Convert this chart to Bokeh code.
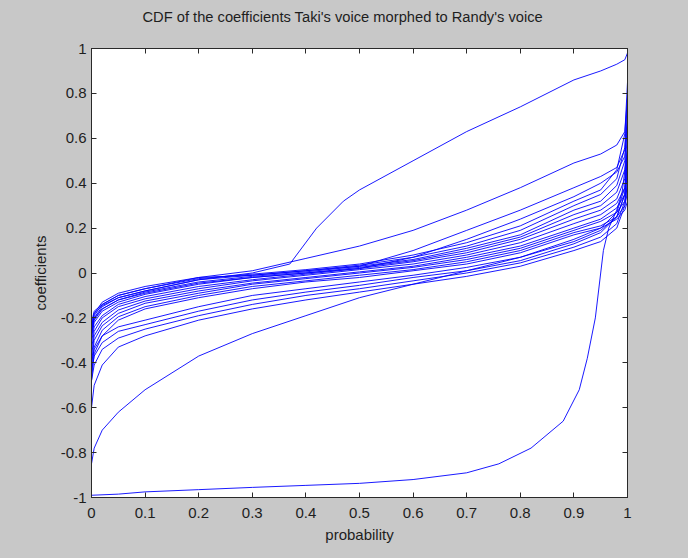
from bokeh.plotting import figure
from bokeh.models import Range1d, LinearAxis, FixedTicker
from bokeh.embed import file_html
from bokeh.resources import INLINE

# ---------------- data ----------------
TITLE = "CDF of the coefficients Taki's voice morphed to Randy's voice"
X_LABEL = "probability"
Y_LABEL = "coefficients"

X_TICKS = [0, 0.1, 0.2, 0.3, 0.4, 0.5, 0.6, 0.7, 0.8, 0.9, 1]
X_TICK_LABELS = ["0", "0.1", "0.2", "0.3", "0.4", "0.5", "0.6", "0.7", "0.8", "0.9", "1"]
Y_TICKS = [-1, -0.8, -0.6, -0.4, -0.2, 0, 0.2, 0.4, 0.6, 0.8, 1]
Y_TICK_LABELS = ["-1", "-0.8", "-0.6", "-0.4", "-0.2", "0", "0.2", "0.4", "0.6", "0.8", "1"]

# shared probability grid for the main bundle
P = [0, 0.005, 0.02, 0.05, 0.1, 0.2, 0.3, 0.4, 0.5, 0.6, 0.7, 0.8, 0.9, 0.95, 0.98, 0.995, 1]

d1 = [-0.22, -0.17, -0.14, -0.10, -0.07, -0.025, -0.005, 0.015, 0.04, 0.08, 0.135, 0.21, 0.32, 0.37, 0.46, 0.62, 0.85]
d2 = [-0.24, -0.18, -0.145, -0.11, -0.08, -0.03, -0.01, 0.01, 0.035, 0.07, 0.12, 0.19, 0.30, 0.35, 0.42, 0.56, 0.78]
d3 = [-0.26, -0.20, -0.16, -0.12, -0.085, -0.04, -0.015, 0.005, 0.03, 0.06, 0.11, 0.17, 0.28, 0.32, 0.39, 0.50, 0.70]
d4 = [-0.29, -0.22, -0.17, -0.13, -0.095, -0.05, -0.02, 0.0, 0.025, 0.055, 0.10, 0.16, 0.26, 0.30, 0.36, 0.46, 0.62]
d5 = [-0.31, -0.24, -0.19, -0.14, -0.105, -0.06, -0.03, -0.005, 0.02, 0.05, 0.09, 0.15, 0.24, 0.28, 0.33, 0.42, 0.56]
d6 = [-0.34, -0.26, -0.20, -0.15, -0.115, -0.07, -0.035, -0.01, 0.015, 0.04, 0.08, 0.135, 0.22, 0.26, 0.31, 0.38, 0.50]
d7 = [-0.37, -0.28, -0.22, -0.165, -0.125, -0.08, -0.045, -0.02, 0.005, 0.03, 0.07, 0.12, 0.20, 0.24, 0.29, 0.35, 0.45]
d8 = [-0.40, -0.30, -0.235, -0.18, -0.135, -0.09, -0.05, -0.025, 0.0, 0.025, 0.06, 0.11, 0.19, 0.23, 0.27, 0.32, 0.40]
d9 = [-0.44, -0.33, -0.255, -0.195, -0.15, -0.10, -0.06, -0.035, -0.01, 0.015, 0.05, 0.10, 0.18, 0.21, 0.25, 0.30, 0.36]
d10 = [-0.48, -0.36, -0.28, -0.21, -0.16, -0.11, -0.07, -0.04, -0.02, 0.01, 0.04, 0.09, 0.17, 0.20, 0.24, 0.28, 0.32]

u2 = [-0.26, -0.19, -0.14, -0.10, -0.07, -0.02, 0.01, 0.065, 0.12, 0.19, 0.28, 0.38, 0.49, 0.53, 0.57, 0.63, 0.78]
u3 = [-0.24, -0.18, -0.13, -0.09, -0.06, -0.02, -0.01, 0.01, 0.03, 0.10, 0.19, 0.28, 0.38, 0.43, 0.47, 0.55, 0.70]
u4 = [-0.27, -0.21, -0.16, -0.12, -0.09, -0.045, -0.02, 0.0, 0.02, 0.07, 0.15, 0.24, 0.34, 0.40, 0.45, 0.52, 0.65]

g1 = [-0.40, -0.34, -0.28, -0.24, -0.21, -0.15, -0.10, -0.07, -0.04, -0.01, 0.025, 0.07, 0.15, 0.20, 0.27, 0.38, 0.55]
g2 = [-0.44, -0.37, -0.31, -0.26, -0.23, -0.17, -0.12, -0.085, -0.055, -0.02, 0.01, 0.055, 0.13, 0.18, 0.25, 0.35, 0.50]
g3 = [-0.48, -0.41, -0.34, -0.29, -0.25, -0.19, -0.14, -0.10, -0.07, -0.035, 0.0, 0.045, 0.115, 0.16, 0.22, 0.32, 0.45]
l1 = [-0.60, -0.50, -0.41, -0.33, -0.28, -0.21, -0.16, -0.12, -0.085, -0.05, -0.015, 0.03, 0.10, 0.14, 0.20, 0.30, 0.40]
l2 = [-0.85, -0.78, -0.70, -0.62, -0.52, -0.37, -0.27, -0.19, -0.11, -0.05, 0.01, 0.07, 0.14, 0.19, 0.25, 0.35, 0.55]

# top outlier (own probability grid, kink near p = 0.37)
U1_P = [0, 0.005, 0.02, 0.05, 0.1, 0.2, 0.3, 0.37, 0.42, 0.47, 0.5, 0.6, 0.7, 0.8, 0.9, 0.95, 0.98, 0.995, 1]
U1_Y = [-0.28, -0.20, -0.15, -0.11, -0.08, -0.03, 0.0, 0.04, 0.20, 0.32, 0.37, 0.50, 0.63, 0.74, 0.86, 0.90, 0.93, 0.95, 0.98]

# bottom outlier (own probability grid)
B_P = [0, 0.05, 0.1, 0.2, 0.3, 0.4, 0.5, 0.6, 0.7, 0.76, 0.82, 0.88, 0.91, 0.925, 0.94, 0.955, 0.965, 0.98, 0.99, 1]
B_Y = [-0.99, -0.985, -0.975, -0.965, -0.955, -0.946, -0.937, -0.92, -0.89, -0.85, -0.78, -0.66, -0.52, -0.38, -0.20, 0.10, 0.20, 0.28, 0.36, 0.55]

SERIES = [(P, d) for d in (d1, d2, d3, d4, d5, d6, d7, d8, d9, d10, u2, u3, u4, g1, g2, g3, l1, l2)]
SERIES += [(U1_P, U1_Y), (B_P, B_Y)]

# ---------------- styling ----------------
BG = "#c8c8c8"
LINE = "#0000ff"
AXC = "#2a2a2a"
TXT = "#1e1e1e"
FONT = "Liberation Sans"
FS = "15px"

p = figure(width=688, height=558, output_backend="svg", toolbar_location=None,
           x_range=Range1d(0, 1), y_range=Range1d(-1, 1),
           background_fill_color="white", border_fill_color=BG,
           min_border_left=91, min_border_right=61, min_border_top=48, min_border_bottom=61,
           outline_line_color=AXC)

p.xgrid.visible = False
p.ygrid.visible = False

for xs, ys in SERIES:
    p.line(xs, ys, line_color=LINE, line_width=1, line_alpha=0.9)

def style_axis(ax, ticks, labels, show_labels, standoff=6):
    ax.ticker = FixedTicker(ticks=ticks)
    ax.axis_line_color = AXC
    ax.major_tick_line_color = AXC
    ax.major_tick_in = 5
    ax.major_tick_out = 0
    ax.minor_tick_line_color = None
    if show_labels:
        ax.major_label_overrides = {t: l for t, l in zip(ticks, labels)}
        ax.major_label_text_font = FONT
        ax.major_label_text_font_size = FS
        ax.major_label_text_color = TXT
        ax.major_label_standoff = standoff
    else:
        ax.major_label_text_font_size = "0px"
        ax.major_label_text_color = None
        ax.major_label_standoff = standoff

xb = p.below[0]
yl = p.left[0]
style_axis(xb, X_TICKS, X_TICK_LABELS, True, standoff=10)
style_axis(yl, Y_TICKS, Y_TICK_LABELS, True, standoff=5)
xb.axis_label = X_LABEL
yl.axis_label = Y_LABEL
for ax in (xb, yl):
    ax.axis_label_text_font = FONT
    ax.axis_label_text_font_size = FS
    ax.axis_label_text_font_style = "normal"
    ax.axis_label_text_color = TXT
xb.axis_label_standoff = 5
yl.axis_label_standoff = 9

# mirrored tick marks on the top and right edges (no labels drawn)
xt = LinearAxis()
style_axis(xt, X_TICKS, X_TICK_LABELS, False, standoff=0)
p.add_layout(xt, "above")
yr = LinearAxis()
style_axis(yr, Y_TICKS, Y_TICK_LABELS, False, standoff=0)
p.add_layout(yr, "right")

# invisible spacer axis: only reserves room between the frame and the title
spacer = LinearAxis()
style_axis(spacer, X_TICKS, X_TICK_LABELS, False, standoff=0)
spacer.axis_line_color = None
spacer.major_tick_line_color = None
spacer.major_tick_in = 0
spacer.major_tick_out = 18
p.add_layout(spacer, "above")

p.title.text = TITLE
p.title.text_font = FONT
p.title.text_font_size = "14.7px"
p.title.text_font_style = "normal"
p.title.text_color = TXT
p.title.align = "left"
p.title.offset = 51
p.title.standoff = 12

html = file_html(p, INLINE)
html = html.replace("<head>", "<head><style>html,body{background:%s;}</style>" % BG, 1)
open("out.html", "w").write(html)
